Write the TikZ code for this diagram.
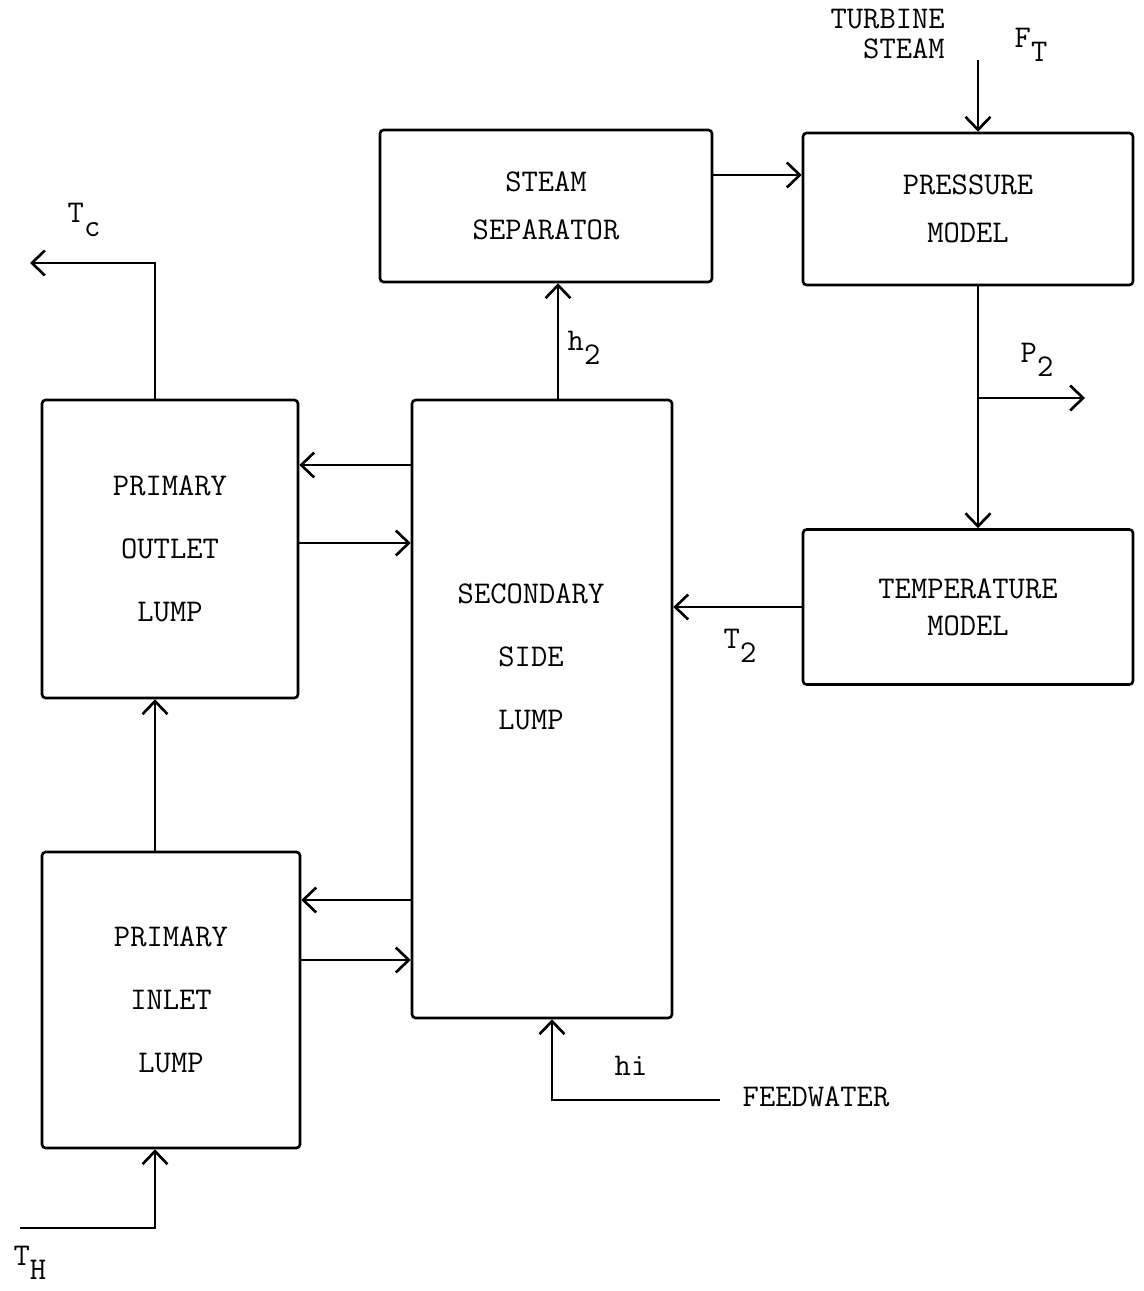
\documentclass[tikz,border=0pt]{standalone}
\usetikzlibrary{arrows.meta, positioning, calc}

\newcommand{\lsub}[1]{\raisebox{-0.45em}{#1}}

\begin{document}
\begin{tikzpicture}[
    x=0.02cm, y=-0.02cm,
    block/.style={
        draw,
        rounded corners=2pt,
        line width=1.5pt,
        inner sep=0pt,
        align=center,
        font=\ttfamily\fontsize{18}{27}\selectfont
    },
    tall/.style={
        block,
        font=\ttfamily\fontsize{18}{36}\selectfont
    },
    lbl/.style={
        inner sep=0pt,
        align=center,
        font=\ttfamily\fontsize{18}{18}\selectfont
    },
    arrow/.style={
        -{Straight Barb[length=2.6mm,width=5mm]},
        line width=1.5pt
    }
]
\useasboundingbox (0,0) rectangle (1143,1291);

% Blocks
\node[block, minimum width=6.64cm, minimum height=3.04cm] (sep) at (546,206) {STEAM \\ SEPARATOR};
\node[block, minimum width=6.60cm, minimum height=3.04cm] (pres) at (968,209) {PRESSURE \\ MODEL};
\node[block, font=\ttfamily\fontsize{18}{21}\selectfont, minimum width=6.60cm, minimum height=3.10cm] (temp) at (968,607) {TEMPERATURE \\ MODEL};
\node[tall, minimum width=5.12cm, minimum height=5.96cm] (outlet) at (170,549) {PRIMARY \\ OUTLET \\ LUMP};
\node[tall, minimum width=5.16cm, minimum height=5.92cm] (inlet) at (171,1000) {PRIMARY \\ INLET \\ LUMP};
\node[block, minimum width=5.20cm, minimum height=12.36cm] (sec) at (542,709) {};
\node[lbl, font=\ttfamily\fontsize{18}{36}\selectfont] (sectxt) at (531,657) {SECONDARY \\ SIDE \\ LUMP};

% Free ends
\coordinate (ft) at (978,60);
\coordinate (p2) at (1085,398);
\coordinate (tc) at (30,263);
\coordinate (th) at (20,1228);
\coordinate (fw) at (720,1100);

% Signals
\draw[arrow] (ft) -- (ft |- pres.north);
\draw[arrow] (sep.east |- 0,175) -- (pres.west |- 0,175);
\draw[arrow] (ft |- pres.south) -- (ft |- temp.north);
\draw[arrow] (ft |- p2) -- (p2);
\draw[arrow] (temp.west) -- (temp.west -| sec.east);
\draw[arrow] (sec.north -| 558,0) -- (sep.south -| 558,0);
\draw[arrow] (outlet.north -| 155,0) |- (tc);
\draw[arrow] (sec.west |- 0,465) -- (outlet.east |- 0,465);
\draw[arrow] (outlet.east |- 0,543) -- (sec.west |- 0,543);
\draw[arrow] (sec.west |- 0,900) -- (inlet.east |- 0,900);
\draw[arrow] (inlet.east |- 0,960) -- (sec.west |- 0,960);
\draw[arrow] (inlet.north -| 155,0) -- (outlet.south -| 155,0);
\draw[arrow] (th) -| (inlet.south -| 155,0);
\draw[arrow] (fw) -| (sec.south -| 552,0);

% Labels
\node[lbl] (tclbl) at (84,220) {T\lsub{c}};
\node[lbl] (thlbl) at (30,1263) {T\lsub{H}};
\node[lbl] (ftlbl) at (1031,45) {F\lsub{T}};
\node[lbl, font=\ttfamily\fontsize{18}{17}\selectfont, align=right, anchor=east] (turb) at (945,34) {TURBINE \\ STEAM};
\node[lbl] (p2lbl) at (1037,360) {P\lsub{2}};
\node[lbl] (t2lbl) at (740,646) {T\lsub{2}};
\node[lbl] (h2lbl) at (584,348) {h\lsub{2}};
\node[lbl] (hilbl) at (631,1066) {hi};
\node[lbl] (fwlbl) at (816,1097) {FEEDWATER};

\end{tikzpicture}
\end{document}
